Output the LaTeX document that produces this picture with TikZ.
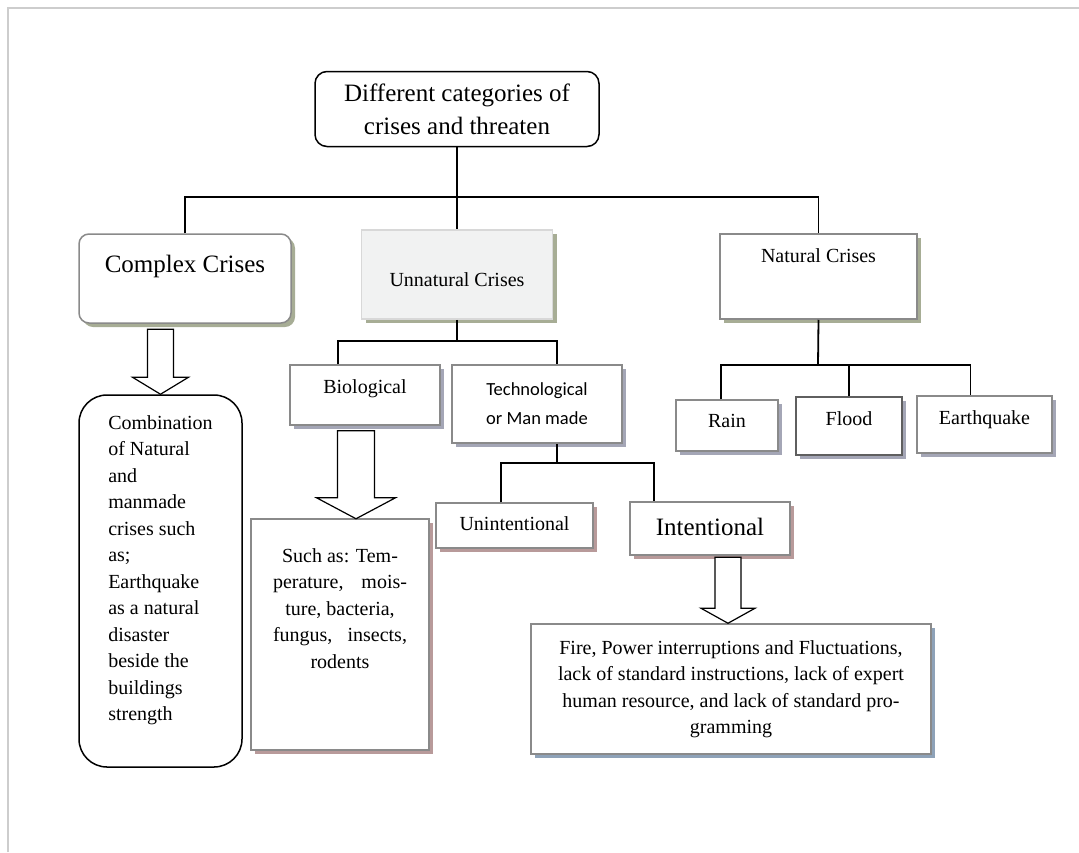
\documentclass[tikz,border=0pt]{standalone}
\usepackage{fontspec}
\setmainfont{Liberation Serif}
\newfontfamily\calibri{Carlito}
\usetikzlibrary{calc,shadows}
\definecolor{boxgray}{RGB}{138,138,138}
\definecolor{floodgray}{RGB}{95,95,95}
\definecolor{unnline}{RGB}{216,216,216}
\definecolor{unnfill}{RGB}{241,242,242}
\definecolor{olivesh}{RGB}{167,173,149}
\definecolor{bluesh}{RGB}{164,166,182}
\definecolor{rosesh}{RGB}{184,154,154}
\definecolor{steelsh}{RGB}{142,162,184}
\definecolor{framec}{RGB}{205,205,205}

\begin{document}
\begin{tikzpicture}[x=1pt,y=-1pt,
  t/.style={font=\fontsize{20}{26.5}\selectfont},
  tbig/.style={font=\fontsize{25}{33}\selectfont},
  lb/.style={anchor=base,inner sep=0pt},
  lt/.style={anchor=north,inner sep=0pt,align=center},
  box/.style={draw=boxgray,line width=1.5pt,fill=white,inner sep=0pt},
  topbox/.style={draw=black,line width=1.5pt,fill=white,rounded corners=12pt,
                 align=center,tbig},
  olive/.style={drop shadow={shadow xshift=4pt,shadow yshift=-4pt,fill=olivesh,opacity=1}},
  bluish/.style={drop shadow={shadow xshift=4pt,shadow yshift=-4pt,fill=bluesh,opacity=1}},
  rosy/.style={drop shadow={shadow xshift=4pt,shadow yshift=-4pt,fill=rosesh,opacity=1}},
  steel/.style={drop shadow={shadow xshift=4pt,shadow yshift=-4pt,fill=steelsh,opacity=1}},
  conn/.style={draw=black,line width=1.8pt},
  blk/.style={draw=black,line width=1.2pt,fill=white}
]
\useasboundingbox (0,0) rectangle (1079,852);
\draw[framec,line width=1.5pt] (8,852) -- (8,8) -- (1079,8);

% top of the tree
\node[topbox,minimum width=284,minimum height=75] (top) at (457,109)
  {Different categories of\\crises and threaten};

% first level
\node[box,olive,rounded corners=10pt,minimum width=212,minimum height=89,
      label={[lb,tbig,yshift=-39pt]north:Complex Crises}] (cplx) at (185,278.5) {};
\node[box,olive,draw=unnline,fill=unnfill,minimum width=191,minimum height=89,
      label={[lb,t,yshift=-57pt]north:Unnatural Crises}] (unnat) at (457,274.5) {};
\node[box,olive,minimum width=197,minimum height=85,
      label={[lb,t,yshift=-29pt]north:Natural Crises}] (nat) at (818.5,276.5) {};

% natural crises
\node[box,bluish,minimum width=102,minimum height=51,
      label={[lb,t,yshift=-28pt]north:Rain}] (rain) at (727,425.5) {};
\node[box,bluish,draw=floodgray,line width=2pt,minimum width=106,minimum height=58,
      label={[lb,t,yshift=-29pt]north:Flood}] (flood) at (849,426) {};
\node[box,bluish,minimum width=135,minimum height=57,
      label={[lb,t,yshift=-29pt]north:Earthquake}] (eq) at (984.5,424.5) {};

% unnatural crises
\node[box,bluish,minimum width=150,minimum height=60,
      label={[lb,t,yshift=-29pt]north:Biological}] (bio) at (365,395) {};
\node[box,bluish,minimum width=170,minimum height=78,align=center,
      font=\calibri\fontsize{18.5}{29}\selectfont] (tech) at (537,404)
  {Technological\\or Man made};
\node[box,rosy,minimum width=157,minimum height=45,
      label={[lb,t,yshift=-28pt]north:Unintentional}] (unint) at (514.5,525.5) {};
\node[box,rosy,minimum width=160,minimum height=53,
      label={[lb,tbig,yshift=-34pt]north:Intentional}] (intent) at (710,528.5) {};

% details
\node[draw=black,line width=1.5pt,fill=white,rounded corners=28pt,
      minimum width=163,minimum height=372,
      label={[anchor=north,inner sep=0pt,align=left,t,yshift=-21pt]north:
        Combination\\of Natural\\and\\manmade\\crises such\\as;\\Earthquake\\as a natural\\disaster\\beside the\\buildings\\strength}]
      (comb) at (160.5,581) {};
\node[box,rosy,minimum width=178,minimum height=231,
      label={[lt,t,yshift=-30pt]north:
        Such as: Tem-\\\makebox[134pt][s]{perature, mois-}\\ture, bacteria,\\\makebox[134pt][s]{fungus, insects,}\\rodents}]
      (such) at (340,634.5) {};
\node[box,steel,minimum width=400,minimum height=130,align=center,t] (fire) at (731,689)
  {Fire, Power interruptions and Fluctuations,\\lack of standard instructions, lack of expert\\human resource, and lack of standard pro-\\gramming};

% connectors
\coordinate (natbus) at (818,365);
\coordinate (unbus) at (457,341);
\coordinate (techbus) at (557,463);
\draw[conn] (top.south) -- (unnat.north);
\draw[conn] (cplx.north) -- ++(0,-36) -| (nat.north);
\draw[conn] (nat.south) -- (natbus);
\draw[conn] ([xshift=-6pt]rain.north) |- (natbus) -| ([xshift=-14pt]eq.north);
\draw[conn] (flood.north) -- (flood.north |- natbus);
\draw[conn] (unnat.south) -- (unbus);
\draw[conn] ([xshift=-27pt]bio.north) |- (unbus) -| ([xshift=20pt]tech.north);
\draw[conn] ([xshift=20pt]tech.south) -- (techbus);
\draw[conn] ([xshift=-13.5pt]unint.north) |- (techbus) -| ([xshift=-56pt]intent.north);

% block arrows
\draw[blk] (comb.north) -- ++(28,-17) -- ++(-15,0) -- ++(0,-48) -- ++(-26,0)
  -- ++(0,48) -- ++(-15,0) -- cycle;
\draw[blk] ($(bio.south)+(-27.5,5)$) -- ++(37,0) -- ++(0,67) -- ++(21,0)
  -- ++(-39.5,21) -- ++(-39.5,-21) -- ++(21,0) -- cycle;
\draw[blk] ([xshift=-3pt]fire.north) -- ++(27,-15) -- ++(-14,0) -- ++(0,-51)
  -- ++(-26,0) -- ++(0,51) -- ++(-14,0) -- cycle;
\end{tikzpicture}
\end{document}
